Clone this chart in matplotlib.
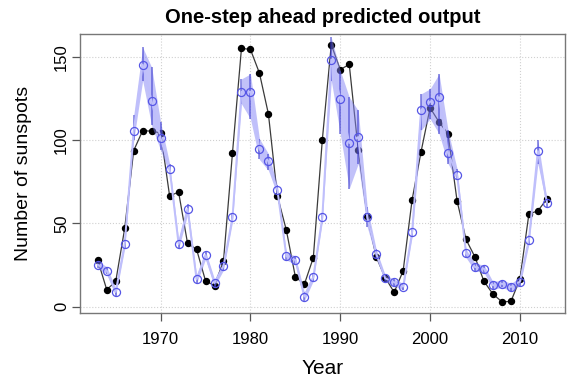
import numpy as np
import matplotlib.pyplot as plt

plt.rcParams['font.family'] = ['Liberation Sans', 'DejaVu Sans']

years = list(range(1963, 2014))

# yearly mean sunspot number (observed)
actual = [27.9, 10.2, 15.1, 47.0, 93.8, 105.9, 105.5, 104.5, 66.6, 68.9,
          38.0, 34.5, 15.5, 12.6, 27.5, 92.5, 155.4, 154.7, 140.5, 115.9,
          66.6, 45.9, 17.9, 13.4, 29.4, 100.2, 157.6, 142.6, 145.7, 94.3,
          54.6, 29.9, 17.5, 8.6, 21.5, 64.3, 93.3, 119.6, 111.0, 104.0,
          63.7, 40.4, 29.8, 15.2, 7.5, 2.9, 3.1, 16.5, 55.7, 57.6, 64.7]

# one-step ahead predictions
pred = [25.2, 21.6, 8.8, 37.8, 105.6, 145.6, 123.6, 101.2, 83.0, 37.6,
        58.8, 16.4, 31.0, 14.2, 24.4, 53.6, 129.2, 129.2, 94.8, 87.4,
        70.0, 30.2, 28.0, 6.0, 17.8, 53.6, 148.6, 125.0, 98.4, 102.0,
        54.0, 31.8, 17.0, 14.6, 12.0, 44.8, 118.2, 123.2, 126.0, 92.4,
        79.4, 32.0, 23.8, 22.8, 12.8, 13.8, 11.8, 15.0, 40.2, 93.6, 62.6]

# prediction interval bounds
pred_lo = [23.0, 19.5, 6.5, 35.0, 100.0, 136.0, 109.0, 94.0, 80.0, 34.5,
           55.5, 14.0, 28.5, 12.0, 22.0, 51.0, 122.0, 113.0, 88.5, 82.0,
           67.0, 28.0, 25.5, 3.5, 15.5, 51.0, 136.0, 104.0, 71.0, 86.0,
           48.0, 29.0, 15.0, 12.5, 10.0, 42.0, 106.0, 113.0, 104.0, 86.0,
           76.0, 29.5, 21.5, 20.5, 10.5, 11.5, 9.5, 12.5, 37.5, 86.0, 60.0]
pred_hi = [27.5, 24.0, 11.0, 40.5, 115.0, 156.0, 144.0, 111.0, 86.0, 40.5,
           62.0, 19.0, 33.5, 16.5, 27.0, 56.5, 137.0, 140.0, 101.0, 92.0,
           73.0, 32.5, 30.5, 8.5, 20.0, 56.5, 162.0, 142.0, 126.0, 118.0,
           60.0, 34.5, 19.0, 16.5, 14.0, 47.5, 128.0, 131.0, 140.0, 106.0,
           83.0, 34.5, 26.0, 25.0, 15.0, 16.0, 14.0, 17.5, 43.0, 100.0, 65.0]

fig = plt.figure(figsize=(5.74, 3.82), dpi=100)
ax = fig.add_axes([0.139, 0.180, 0.845, 0.731])

# observed series
ax.plot(years, actual, color='#3a3a3a', lw=0.9, zorder=2)
ax.plot(years, actual, 'o', color='black', ms=4.3, zorder=2)

# interval band and predictions on top
ax.fill_between(years, pred_lo, pred_hi, color='#8484f5', alpha=0.5,
                lw=0, zorder=3)
ax.vlines(years, pred_lo, pred_hi, color='#3c3cd0', lw=1.1, alpha=0.7,
          zorder=4)
ax.plot(years, pred, color='#bfbffc', lw=1.4, zorder=4)
ax.plot(years, pred, 'o', mfc='none', mec='#5555e6', mew=0.9, ms=5.8,
        zorder=5)

ax.set_xlim(1961, 2015)
ax.set_ylim(-4, 164)
ax.set_xticks([1970, 1980, 1990, 2000, 2010])
ax.set_yticks([0, 50, 100, 150])
ax.set_yticklabels(['0', '50', '100', '150'], rotation=90, va='center')
ax.grid(True, color='#d0d0d0', ls=':', lw=0.8)
ax.set_axisbelow(True)

for s in ax.spines.values():
    s.set_color('#777777')
    s.set_linewidth(1.0)
ax.tick_params(direction='out', length=5.8, width=0.9, color='#555555',
               labelsize=12)
ax.tick_params(axis='x', pad=7.5)
ax.tick_params(axis='y', pad=2)

ax.set_title('One-step ahead predicted output', fontsize=14.5,
             fontweight='bold', pad=8)
ax.set_xlabel('Year', fontsize=15, labelpad=9)
ax.set_ylabel('Number of sunspots', fontsize=14, labelpad=16)

fig.savefig('out.png', dpi=100)
